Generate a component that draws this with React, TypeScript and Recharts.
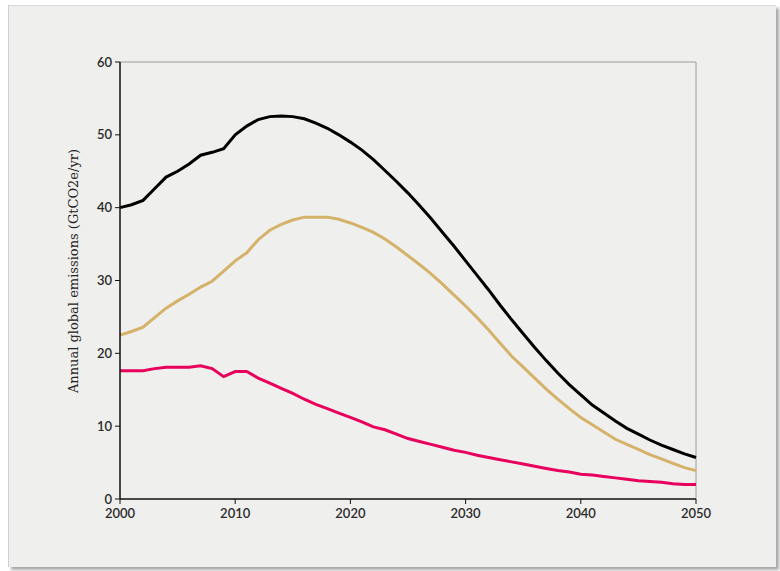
import React from 'react';
import { LineChart, Line, XAxis, YAxis, ReferenceLine, Label } from 'recharts';

const years = [2000,2001,2002,2003,2004,2005,2006,2007,2008,2009,2010,2011,2012,2013,2014,2015,2016,2017,2018,2019,2020,2021,2022,2023,2024,2025,2026,2027,2028,2029,2030,2031,2032,2033,2034,2035,2036,2037,2038,2039,2040,2041,2042,2043,2044,2045,2046,2047,2048,2049,2050];

const blackSeries = [40.0,40.4,41.0,42.6,44.2,45.0,46.0,47.2,47.6,48.1,50.0,51.2,52.1,52.5,52.6,52.5,52.2,51.6,50.9,50.0,49.0,47.9,46.6,45.1,43.6,42.0,40.3,38.5,36.6,34.7,32.7,30.7,28.7,26.6,24.6,22.7,20.8,19.0,17.3,15.7,14.3,12.9,11.8,10.7,9.7,8.9,8.1,7.4,6.8,6.2,5.7];

const goldSeries = [22.5,23.0,23.6,24.9,26.2,27.2,28.1,29.1,29.9,31.3,32.7,33.8,35.6,36.9,37.7,38.3,38.7,38.7,38.7,38.4,37.9,37.3,36.6,35.7,34.6,33.4,32.2,30.9,29.5,28.0,26.5,24.9,23.2,21.4,19.6,18.1,16.6,15.1,13.7,12.4,11.2,10.2,9.2,8.2,7.5,6.8,6.1,5.5,4.9,4.3,3.9];

const pinkSeries = [17.6,17.6,17.6,17.9,18.1,18.1,18.1,18.3,17.9,16.8,17.5,17.5,16.6,15.9,15.2,14.5,13.7,13.0,12.4,11.8,11.2,10.6,9.9,9.5,8.9,8.3,7.9,7.5,7.1,6.7,6.4,6.0,5.7,5.4,5.1,4.8,4.5,4.2,3.9,3.7,3.4,3.3,3.1,2.9,2.7,2.5,2.4,2.3,2.1,2.0,2.0];

const xTicks = [2000, 2010, 2020, 2030, 2040, 2050];
const yTicks = [0, 10, 20, 30, 40, 50, 60];
const yLabel = 'Annual global emissions (GtCO2e/yr)';

const data = years.map((y, i) => ({
  year: y,
  black: blackSeries[i],
  gold: goldSeries[i],
  pink: pinkSeries[i],
}));

const tickStyle = { fill: '#2a2a2a', fontSize: 13, fontFamily: 'Lato, "Noto Sans", sans-serif', fontWeight: 600 };

const YLabelContent = () => {
  const cx = 73;
  const cy = 271;
  return (
    <text
      x={cx}
      y={cy}
      transform={`rotate(-90, ${cx}, ${cy})`}
      textAnchor="middle"
      dominantBaseline="central"
      fill="#222"
      fontSize={13}
      fontFamily='"DejaVu Serif", "Liberation Serif", serif'
    >
      {yLabel}
    </text>
  );
};

export default function App() {
  return (
    <div style={{ position: 'absolute', left: 0, top: 0, width: 780, height: 571, background: '#ffffff', overflow: 'hidden' }}>
      <div
        style={{
          position: 'absolute',
          left: 8,
          top: 5,
          width: 767,
          height: 561,
          background: '#efefed',
          borderTop: '1px solid #d8d8d8',
          borderLeft: '1px solid #d0d0d0',
          boxShadow: '3px 3px 3px rgba(0,0,0,0.35)',
        }}
      />
      <div style={{ position: 'absolute', left: 0, top: 0 }}>
        <LineChart width={780} height={571} data={data} margin={{ top: 62, right: 84, bottom: 0, left: 0 }}>
          <XAxis
            dataKey="year"
            type="number"
            domain={[2000, 2050]}
            ticks={xTicks}
            interval={0}
            axisLine={{ stroke: '#111', strokeWidth: 1.5 }}
            tickLine={{ stroke: '#111', strokeWidth: 1 }}
            tickSize={5}
            tick={tickStyle}
            tickMargin={5}
            height={72}
          />
          <YAxis
            type="number"
            domain={[0, 60]}
            ticks={yTicks}
            interval={0}
            width={120}
            axisLine={{ stroke: '#111', strokeWidth: 1.5 }}
            tickLine={{ stroke: '#111', strokeWidth: 1 }}
            tickSize={5}
            tick={tickStyle}
            tickMargin={3}
          >
            <Label content={<YLabelContent />} />
          </YAxis>
          <ReferenceLine y={60} stroke="#9c9c9c" strokeWidth={1} />
          <ReferenceLine x={2050} stroke="#9c9c9c" strokeWidth={1} />
          <Line type="linear" dataKey="gold" stroke="#d4b26a" strokeWidth={3} dot={false} isAnimationActive={false} />
          <Line type="linear" dataKey="pink" stroke="#e8005c" strokeWidth={3} dot={false} isAnimationActive={false} />
          <Line type="linear" dataKey="black" stroke="#000000" strokeWidth={3} dot={false} isAnimationActive={false} />
        </LineChart>
      </div>
    </div>
  );
}
